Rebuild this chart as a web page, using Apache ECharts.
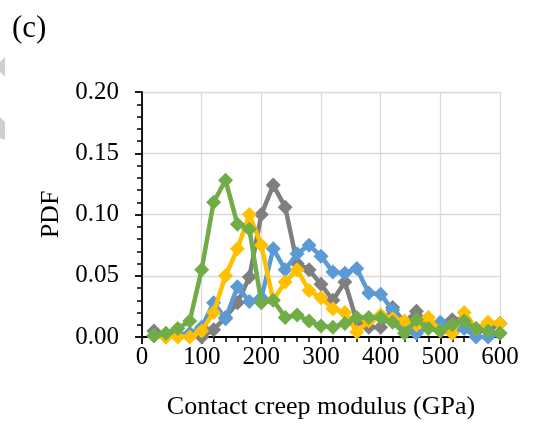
<!DOCTYPE html>
<html>
<head>
<meta charset="utf-8">
<script src="https://cdn.jsdelivr.net/npm/echarts@6/dist/echarts.min.js"></script>
<style>html,body{margin:0;padding:0;background:#fff;}#c{width:542px;height:426px;}</style>
</head>
<body>
<div id="c"></div>
<script>
const xValues = [20,40,60,80,100,120,140,160,180,200,220,240,260,280,300,320,340,360,380,400,420,440,460,480,500,520,540,560,580,600];
const grayValues = [0.005,0.001,0.001,0.002,0.000,0.006,0.016,0.028,0.049,0.100,0.124,0.106,0.060,0.055,0.043,0.030,0.045,0.013,0.008,0.008,0.024,0.012,0.021,0.010,0.007,0.014,0.015,0.005,0.005,0.011];
const blueValues = [0.001,0.000,0.002,0.003,0.008,0.028,0.015,0.041,0.029,0.032,0.072,0.055,0.068,0.075,0.066,0.053,0.052,0.056,0.036,0.035,0.022,0.010,0.003,0.008,0.012,0.004,0.007,0.000,0.000,0.003];
const yellowValues = [0.001,0.000,0.000,0.000,0.005,0.020,0.050,0.072,0.100,0.075,0.030,0.045,0.055,0.038,0.032,0.023,0.020,0.004,0.013,0.018,0.015,0.013,0.010,0.016,0.005,0.003,0.020,0.007,0.012,0.011];
const greenValues = [0.001,0.003,0.007,0.013,0.055,0.110,0.128,0.092,0.088,0.028,0.030,0.016,0.018,0.013,0.009,0.008,0.011,0.016,0.016,0.016,0.012,0.003,0.014,0.007,0.005,0.010,0.013,0.007,0.005,0.003];
const xTicks = [0,100,200,300,400,500,600];
const yTicks = [0.00,0.05,0.10,0.15,0.20];

const font = '"Liberation Serif","Times New Roman",serif';
const chart = echarts.init(document.getElementById('c'), null, {renderer:'canvas'});
function mk(name, vals, color, z){
  return {
    name, type:'line', z,
    data: xValues.map((x,i)=>[x, vals[i]]),
    symbol:'diamond', symbolSize:15,
    lineStyle:{color, width:4.5},
    itemStyle:{color},
    animation:false
  };
}
chart.setOption({
  backgroundColor:'#fff',
  animation:false,
  grid:{left:142, right:42, top:92, bottom:89, containLabel:false},
  graphic:[
    {type:'text', left:12, top:13, style:{text:'(c)', font:'31px '+font, fill:'#000'}},
    {type:'polygon', shape:{points:[[0,62],[5,57],[5,77],[0,72]]}, style:{fill:'#cfcfcf'}},
    {type:'polygon', shape:{points:[[0,117],[5,122],[5,140],[0,138]]}, style:{fill:'#cfcfcf'}}
  ],
  xAxis:[{
    type:'value', min:xTicks[0], max:xTicks[xTicks.length-1], interval:100,
    name:'Contact creep modulus (GPa)', nameLocation:'middle', nameGap:57,
    nameTextStyle:{fontFamily:font, fontSize:26, color:'#000'},
    axisLine:{show:true, onZero:false, lineStyle:{color:'#000', width:1.8}},
    axisTick:{show:true, length:7, lineStyle:{color:'#000', width:1.8}},
    minorTick:{show:true, splitNumber:5, length:5, lineStyle:{color:'#000', width:1.5}},
    axisLabel:{fontFamily:font, fontSize:25, color:'#000', margin:8},
    splitLine:{show:true, lineStyle:{color:'#d9d9d9', width:1.3}}
  }],
  yAxis:[{
    type:'value', min:yTicks[0], max:yTicks[yTicks.length-1], interval:0.05,
    name:'PDF', nameLocation:'middle', nameGap:73,
    nameTextStyle:{fontFamily:font, fontSize:26, color:'#000'},
    axisLine:{show:true, onZero:false, lineStyle:{color:'#000', width:1.8}},
    axisTick:{show:true, length:7, lineStyle:{color:'#000', width:1.8}},
    minorTick:{show:true, splitNumber:5, length:5, lineStyle:{color:'#000', width:1.5}},
    axisLabel:{fontFamily:font, fontSize:25, color:'#000', margin:23, formatter:v=>v.toFixed(2)},
    splitLine:{show:true, lineStyle:{color:'#d9d9d9', width:1.3}}
  }],
  series:[
    mk('Gray', grayValues, '#7f7f7f', 2),
    mk('Blue', blueValues, '#5b9bd5', 3),
    mk('Yellow', yellowValues, '#ffc000', 4),
    mk('Green', greenValues, '#70ad47', 5)
  ]
});
</script>
</body>
</html>
